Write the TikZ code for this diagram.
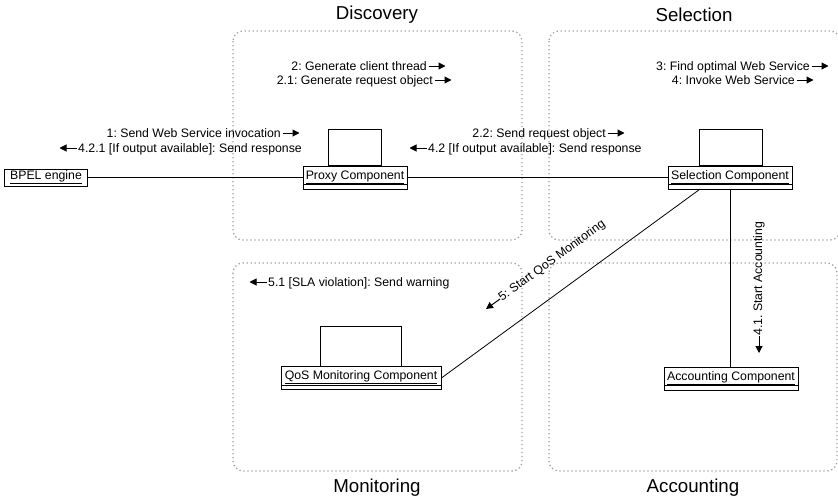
\documentclass[tikz,border=0pt]{standalone}
\usepackage{fontspec}
\setmainfont{Liberation Sans}
\usetikzlibrary{arrows.meta}
\frenchspacing
\begin{document}
\frenchspacing
\begin{tikzpicture}[x=1pt,y=-1pt,
  lbl/.style={inner sep=0pt,font=\fontsize{12.3}{14}\selectfont\frenchspacing},
  ttl/.style={inner sep=0pt,font=\fontsize{18.7}{22}\selectfont},
  region/.style={draw=gray!75, line width=1.3pt, dash pattern=on 1.3pt off 2.7pt, rounded corners=10pt},
  objbase/.style={draw, line width=0.8pt, inner xsep=0pt, inner ysep=0pt, font=\fontsize{12.3}{14}\selectfont},
  obj/.style={objbase, text height=13pt, text depth=10pt,
    path picture={\draw[line width=0.8pt] ([yshift=4.5pt]path picture bounding box.south west) -- ([yshift=4.5pt]path picture bounding box.south east);}},
  msg/.style={line width=1pt, -{Triangle[length=7pt,width=7pt]}},
  conn/.style={line width=0.8pt}]
\useasboundingbox (0,0) rectangle (838,501);

% regions
\draw[region] (233,31) rectangle (522,240);
\draw[region] (549,31) rectangle (840,240);
\draw[region] (233,263) rectangle (522,471);
\draw[region] (549,263) rectangle (837,471);

% titles
\node[ttl] (tdisc) at (377,15) {Discovery};
\node[ttl] (tsel) at (694,15) {Selection};
\node[ttl] (tmon) at (377,488) {Monitoring};
\node[ttl] (tacc) at (693,488) {Accounting};

% objects
\node[objbase, text height=10pt, text depth=7pt, minimum width=83pt] (bpel) at (46,177.5) {\underline{BPEL engine}};
\node[obj, minimum width=104pt] (proxy) at (355,177.5) {\underline{Proxy Component}};
\node[obj, minimum width=124pt] (sel) at (730,177.5) {\underline{Selection Component}};
\node[obj, minimum width=160pt] (qos) at (361,378) {\underline{QoS Monitoring Component}};
\node[obj, minimum width=134pt] (acc) at (731,378.5) {\underline{Accounting Component}};

% thread rectangles
\draw[conn] ([xshift=26pt]proxy.north west) rectangle ([xshift=-26pt,yshift=36pt]proxy.north east);
\draw[conn] ([xshift=32pt]sel.north west) rectangle ([xshift=-30pt,yshift=36pt]sel.north east);
\draw[conn] ([xshift=40pt]qos.north west) rectangle ([xshift=-40pt,yshift=40pt]qos.north east);

% connectors
\draw[conn] (bpel) -- (proxy);
\draw[conn] (proxy) -- (sel);
\draw[conn] ([xshift=32pt]sel.south west) -- (qos.east);
\draw[conn] (sel.south) -- (sel.south |- acc.north);

% messages
\node[lbl, anchor=base east] (m1) at (281,137) {1: Send Web Service invocation};
\draw[msg] ([xshift=1.5pt,yshift=4pt]m1.base east) -- ++(17,0);
\node[lbl, anchor=base west] (m421) at (78,152) {4.2.1 [If output available]: Send response};
\draw[msg] ([xshift=-1.5pt,yshift=4pt]m421.base west) -- ++(-17,0);

\node[lbl, anchor=base east] (m2) at (427,70) {2: Generate client thread};
\draw[msg] ([xshift=1.5pt,yshift=4pt]m2.base east) -- ++(17,0);
\node[lbl, anchor=base east] (m21) at (433,84) {2.1: Generate request object};
\draw[msg] ([xshift=1.5pt,yshift=4pt]m21.base east) -- ++(17,0);

\node[lbl, anchor=base east] (m22) at (606,137) {2.2: Send request object};
\draw[msg] ([xshift=1.5pt,yshift=4pt]m22.base east) -- ++(17,0);
\node[lbl, anchor=base west] (m42) at (428,152) {4.2 [If output available]: Send response};
\draw[msg] ([xshift=-1.5pt,yshift=4pt]m42.base west) -- ++(-17,0);

\node[lbl, anchor=base east] (m3) at (810,70) {3: Find optimal Web Service};
\draw[msg] ([xshift=1.5pt,yshift=4pt]m3.base east) -- ++(17,0);
\node[lbl, anchor=base east] (m4) at (795,84) {4: Invoke Web Service};
\draw[msg] ([xshift=1.5pt,yshift=4pt]m4.base east) -- ++(17,0);

\node[lbl, anchor=base west] (m51) at (268,286) {5.1 [SLA violation]: Send warning};
\draw[msg] ([xshift=-1.5pt,yshift=4pt]m51.base west) -- ++(-17,0);

\node[lbl, anchor=west, rotate=36] (m5) at (500,299) {5: Start QoS Monitoring};
\draw[msg] (m5.west) -- ++(-14,10);

\node[lbl, anchor=west, rotate=90] (m41) at (759,336) {4.1. Start Accounting};
\draw[msg] (m41.west) -- ++(0,17);
\end{tikzpicture}
\end{document}
